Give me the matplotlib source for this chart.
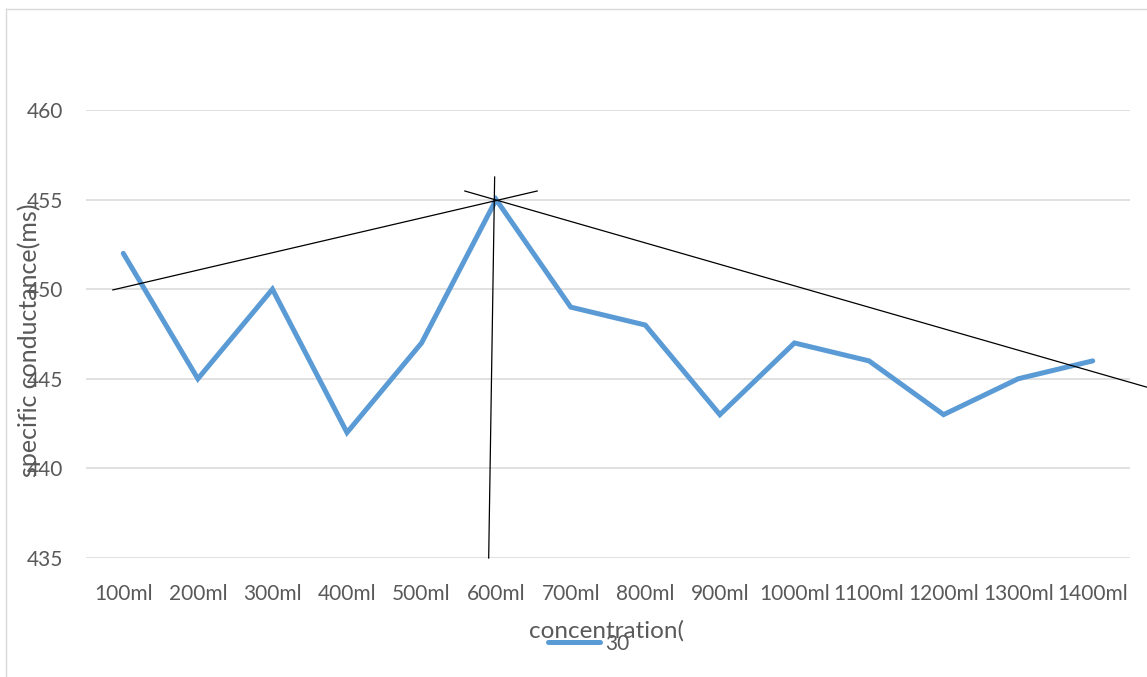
import matplotlib
matplotlib.use("Agg")
import matplotlib.pyplot as plt
from matplotlib.lines import Line2D

# conductance readings per added volume
volumes = ["100ml", "200ml", "300ml", "400ml", "500ml", "600ml", "700ml",
           "800ml", "900ml", "1000ml", "1100ml", "1200ml", "1300ml", "1400ml"]
conductance = [452, 445, 450, 442, 447, 455, 449, 448, 443, 447, 446, 443, 445, 446]
y_ticks = [435, 440, 445, 450, 455, 460]

# hand-drawn guide lines (category index, value)
guide_left_x = [-0.14, 5.55]
guide_left_y = [449.96, 455.48]
guide_right_x = [4.58, 13.72]
guide_right_y = [455.48, 444.54]
guide_vert_x = [4.98, 4.90]
guide_vert_y = [456.26, 435.0]

plt.rcParams["font.family"] = ["Lato", "DejaVu Sans"]
text_color = "#595959"

fig = plt.figure(figsize=(11.47, 6.77), dpi=100)
W, H = 1147, 677
ax = fig.add_axes([86 / W, 1 - 558 / H, (1130 - 86) / W, (558 - 110) / H])

x = list(range(len(volumes)))
ax.plot(x, conductance, color="#5b9bd5", linewidth=3.6, solid_capstyle="round",
        solid_joinstyle="miter", zorder=3)

for gx, gy in [(guide_left_x, guide_left_y), (guide_right_x, guide_right_y),
               (guide_vert_x, guide_vert_y)]:
    ax.plot(gx, gy, color="black", linewidth=0.9, clip_on=False, zorder=4)

ax.set_xlim(-0.5, len(volumes) - 0.5)
ax.set_ylim(435, 460)
ax.set_yticks(y_ticks)
ax.set_xticks(x)
ax.set_xticklabels(volumes)
ax.grid(axis="y", color="#d9d9d9", linewidth=1.1)
ax.set_axisbelow(True)
for s in ax.spines.values():
    s.set_visible(False)
ax.tick_params(length=0, labelsize=15, colors=text_color)
ax.tick_params(axis="x", pad=19)
ax.tick_params(axis="y", pad=16.5)

fig.text(29 / W, 1 - 340 / H, "specific conductance(ms)", rotation=90,
         ha="center", va="center", fontsize=18, color=text_color)
fig.text(606 / W, 1 - 631 / H, "concentration(", ha="center", va="center",
         fontsize=17.5, color=text_color)

# legend entry
fig.add_artist(Line2D([548 / W, 600 / W], [1 - 642 / H, 1 - 642 / H],
                      color="#5b9bd5", linewidth=3.6, solid_capstyle="round"))
fig.text(605 / W, 1 - 644 / H, "30", ha="left", va="center", fontsize=15,
         color=text_color)

# chart frame
fig.add_artist(Line2D([6 / W, 6 / W], [0, 1 - 9 / H], color="#d9d9d9", linewidth=1))
fig.add_artist(Line2D([6 / W, 1], [1 - 9 / H, 1 - 9 / H], color="#d9d9d9", linewidth=1))

fig.savefig("out.png", dpi=100)
